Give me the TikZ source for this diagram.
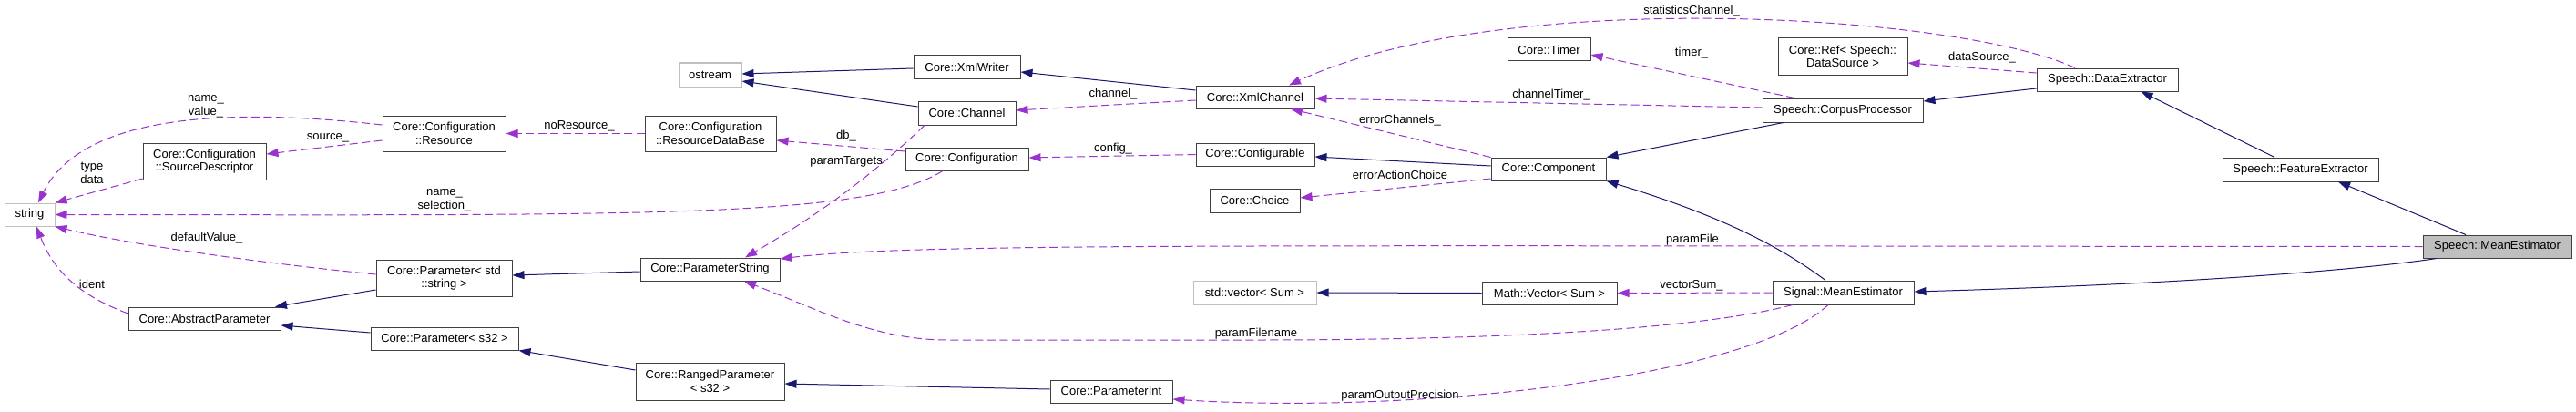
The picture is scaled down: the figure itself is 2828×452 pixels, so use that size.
\documentclass[tikz,border=0pt]{standalone}
\usepackage{fontspec}
\setmainfont{Liberation Sans}
\usetikzlibrary{arrows.meta}

\definecolor{inheritcol}{RGB}{25,25,112}
\definecolor{usecol}{RGB}{154,50,205}
\definecolor{boxborder}{RGB}{64,64,64}
\definecolor{extborder}{RGB}{191,191,191}

\newcommand{\classfont}{\fontsize{13}{14.5}\selectfont}
\newcommand{\classbox}[6]{
    % one class = a box round its centre, #4 x #5 px
    \node[#1,minimum width=#4pt,minimum height=#5pt] (#2) at (#3) {#6};
}

\tikzset{
    cls/.style={draw=boxborder,line width=1pt,inner sep=0pt,align=center,font=\classfont},
    extcls/.style={cls,draw=extborder},
    focus/.style={cls,fill=extborder},
    inherit/.style={draw=inheritcol,line width=1pt,-{Triangle[length=13pt,width=9pt]}},
    uses/.style={draw=usecol,line width=1pt,dash pattern=on 9pt off 4.5pt,-{Triangle[length=13pt,width=9pt]}},
    lbl/.style={font=\classfont,align=center,inner sep=0pt}
}

\begin{document}
\begin{tikzpicture}[x=1pt,y=-1pt]
    \useasboundingbox (0,0) rectangle (2828,452);

    % first column
    \classbox{extcls}{string}{32.5,235.5}{55}{25}{string}
    \classbox{cls}{srcdesc}{224.5,177}{135}{40}{Core::Configuration\\::SourceDescriptor}
    \classbox{cls}{abstractparam}{224.5,349.5}{167}{25}{Core::AbstractParameter}

    % second column
    \classbox{cls}{resource}{487.5,146.5}{135}{39}{Core::Configuration\\::Resource}
    \classbox{cls}{paramstd}{487.5,305}{149}{40}{Core::Parameter< std\\::string >}
    \classbox{cls}{params32}{488,371.5}{162}{25}{Core::Parameter< s32 >}

    % third column
    \classbox{extcls}{ostream}{779.5,82}{69}{26}{ostream}
    \classbox{cls}{resdb}{780,146.5}{144}{39}{Core::Configuration\\::ResourceDataBase}
    \classbox{cls}{paramstring}{779.5,295.5}{153}{25}{Core::ParameterString}
    \classbox{cls}{ranged}{779.5,418.5}{163}{41}{Core::RangedParameter\\< s32 >}

    % fourth column
    \classbox{cls}{xmlwriter}{1061.5,73.5}{117}{25}{Core::XmlWriter}
    \classbox{cls}{channel}{1061.5,124}{107}{26}{Core::Channel}
    \classbox{cls}{configuration}{1061.5,174.5}{135}{25}{Core::Configuration}
    \classbox{cls}{paramint}{1220,429.5}{134}{25}{Core::ParameterInt}

    % fifth column
    \classbox{cls}{xmlchannel}{1378,106.5}{130}{25}{Core::XmlChannel}
    \classbox{cls}{configurable}{1378,169.5}{130}{25}{Core::Configurable}
    \classbox{cls}{choice}{1377.5,220}{99}{26}{Core::Choice}
    \classbox{extcls}{stdvector}{1377.5,321}{135}{26}{std::vector< Sum >}

    % sixth column
    \classbox{cls}{timer}{1700.5,54.5}{91}{25}{Core::Timer}
    \classbox{cls}{component}{1700,185.5}{126}{25}{Core::Component}
    \classbox{cls}{mathvector}{1701,321.5}{148}{25}{Math::Vector< Sum >}

    % seventh column
    \classbox{cls}{coreref}{2023,62}{142}{40}{Core::Ref< Speech::\\DataSource >}
    \classbox{cls}{corpus}{2023,121}{176}{26}{Speech::CorpusProcessor}
    \classbox{cls}{signalmean}{2023.5,321}{155}{26}{Signal::MeanEstimator}

    % last columns
    \classbox{cls}{dataextractor}{2313.5,87.5}{155}{25}{Speech::DataExtractor}
    \classbox{cls}{featureextractor}{2525.5,186}{171}{26}{Speech::FeatureExtractor}
    \classbox{focus}{speechmean}{2741.5,270.5}{163}{25}{Speech::MeanEstimator}

    % base classes
    \draw[inherit] ([yshift=-1.5pt]xmlwriter.west) -- ([yshift=1pt]ostream.east);
    \draw[inherit] ([yshift=7pt]channel.west) -- ([yshift=-7pt]ostream.east);
    \draw[inherit] ([yshift=7.5pt]xmlchannel.west) -- ([yshift=-5.5pt]xmlwriter.east);
    \draw[inherit] ([yshift=3.5pt]component.west) -- ([yshift=-2.5pt]configurable.east);
    \draw[inherit] ([xshift=-65pt]corpus.south) -- (component.north east);
    \draw[inherit] ([yshift=-9.5pt]dataextractor.west) -- ([yshift=10pt]corpus.east);
    \draw[inherit] ([xshift=-28.5pt]featureextractor.north) -- ([xshift=37pt]dataextractor.south);
    \draw[inherit] ([xshift=-34.5pt]speechmean.north) -- ([xshift=41.5pt]featureextractor.south);
    \draw[inherit] ([xshift=-66.5pt]speechmean.south) .. controls (2620,292) and (2450,310) .. ([yshift=1pt]signalmean.east);
    \draw[inherit] ([xshift=-19.5pt]signalmean.north) .. controls (1960,275) and (1900,240) .. (component.south east);
    \draw[inherit] ([yshift=-2.5pt]paramstring.west) -- ([yshift=3pt]paramstd.east);
    \draw[inherit] ([yshift=-13pt]paramstd.west) -- ([xshift=77.5pt]abstractparam.north);
    \draw[inherit] ([yshift=6.5pt]params32.west) -- ([yshift=-7.5pt]abstractparam.east);
    \draw[inherit] ([yshift=12.5pt]ranged.west) -- (params32.south east);
    \draw[inherit] ([yshift=2.5pt]paramint.west) -- ([yshift=-2.5pt]ranged.east);
    \draw[inherit] (mathvector.west) -- (stdvector.east);

    % members
    \draw[uses] ([yshift=9.5pt]resource.west) .. controls (250,118) and (90,125) .. ([xshift=9.5pt]string.north);
    \draw[uses] ([yshift=-7.5pt]resource.west) -- ([yshift=8pt]srcdesc.east);
    \draw[uses] ([yshift=-19pt]srcdesc.west) -- (string.north east);
    \draw[uses] (resdb.west) -- (resource.east);
    \draw[uses] ([yshift=8.5pt]configuration.west) -- ([yshift=-7.5pt]resdb.east);
    \draw[uses] ([xshift=-46.5pt]channel.south) .. controls (960,190) and (900,235) .. ([xshift=38.5pt]paramstring.north);
    \draw[uses] ([xshift=-26.5pt]configuration.south) .. controls (950,240) and (700,236) .. (string.east);
    \draw[uses] (speechmean.west) .. controls (1400,270) and (1000,266) .. ([yshift=11.5pt]paramstring.east);
    \draw[uses] ([xshift=-55.5pt]signalmean.south) .. controls (1850,365) and (1600,373) .. (1380,373) -- (1040,373) .. controls (960,373) and (900,340) .. ([xshift=37.5pt]paramstring.south);
    \draw[uses] ([xshift=-16.5pt]signalmean.south) .. controls (1920,415) and (1550,455) .. ([yshift=-8.5pt]paramint.east);
    \draw[uses] (signalmean.west) -- (mathvector.east);
    \draw[uses] ([xshift=-35.5pt]dataextractor.north) .. controls (2150,15) and (1650,-15) .. ([xshift=37pt]xmlchannel.north);
    \draw[uses] ([yshift=7.5pt]dataextractor.west) -- ([yshift=-7pt]coreref.east);
    \draw[uses] ([xshift=-53pt]corpus.north) -- ([yshift=-5.5pt]timer.east);
    \draw[uses] ([yshift=3pt]corpus.west) -- ([yshift=-1.5pt]xmlchannel.east);
    \draw[uses] (component.north west) -- ([xshift=39pt]xmlchannel.south);
    \draw[uses] ([yshift=-10.5pt]component.west) -- ([yshift=3pt]choice.east);
    \draw[uses] ([yshift=-3.5pt]xmlchannel.west) -- ([yshift=3pt]channel.east);
    \draw[uses] (configurable.west) -- ([yshift=1.5pt]configuration.east);
    \draw[uses] ([yshift=4pt]paramstd.west) .. controls (300,290) and (150,270) .. (string.south east);
    \draw[uses] ([yshift=5.5pt]abstractparam.west) .. controls (90,325) and (60,300) .. ([xshift=7.5pt]string.south);

    % member names
    \node[lbl] (lvalue) at (226,117) {name\_\\value\_};
    \node[lbl] (lsource) at (360,151) {source\_};
    \node[lbl] (ltype) at (101,190) {type\\data};
    \node[lbl] (ldefault) at (227,261) {defaultValue\_};
    \node[lbl] (lident) at (101,312) {ident};
    \node[lbl] (lselection) at (488,220) {name\_\\selection\_};
    \node[lbl] (lnores) at (636,138) {noResource\_};
    \node[lbl] (ldb) at (929,149) {db\_};
    \node[lbl] (ltargets) at (929,177) {paramTargets};
    \node[lbl] (lchannel) at (1222,103) {channel\_};
    \node[lbl] (lconfig) at (1222,163) {config\_};
    \node[lbl] (lstats) at (1857,12) {statisticsChannel\_};
    \node[lbl] (ltimer) at (1857,58) {timer\_};
    \node[lbl] (lchtimer) at (1703,104) {channelTimer\_};
    \node[lbl] (lerrch) at (1537,132) {errorChannels\_};
    \node[lbl] (lerract) at (1537,192) {errorActionChoice};
    \node[lbl] (ldatasrc) at (2176,63) {dataSource\_};
    \node[lbl] (lparamfile) at (1858,263) {paramFile};
    \node[lbl] (lvecsum) at (1857,313) {vectorSum\_};
    \node[lbl] (lfilename) at (1379,366) {paramFilename};
    \node[lbl] (lprecision) at (1537,434) {paramOutputPrecision};
\end{tikzpicture}
\end{document}
